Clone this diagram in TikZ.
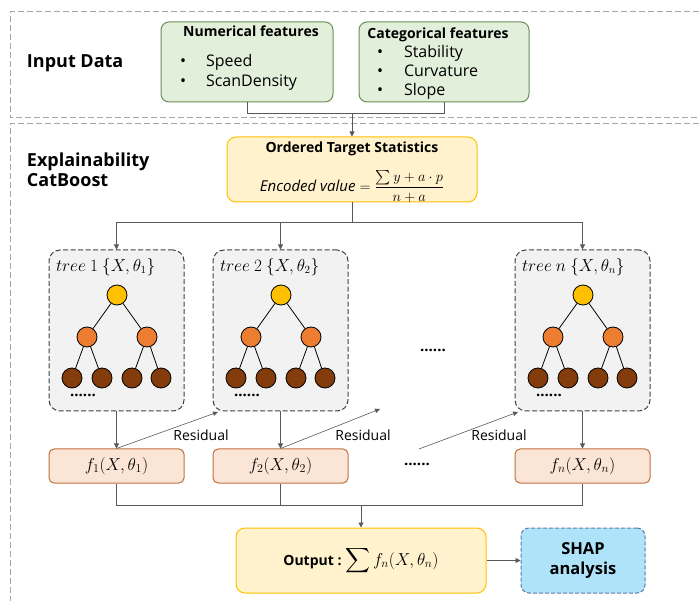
\documentclass[tikz,border=0pt]{standalone}
\usepackage{amsmath}
\usepackage{fontspec}
\setmainfont{Open Sans}
\usetikzlibrary{arrows.meta}
\definecolor{outerdash}{HTML}{A6A6A6}
\definecolor{cline}{HTML}{595959}
\definecolor{greenfill}{HTML}{E2EFDA}
\definecolor{greenline}{HTML}{6B8E5A}
\definecolor{yelfill}{HTML}{FFF2CC}
\definecolor{yelline}{HTML}{FFC000}
\definecolor{treefill}{HTML}{F2F2F2}
\definecolor{treeline}{HTML}{404040}
\definecolor{rootc}{HTML}{FFC000}
\definecolor{midc}{HTML}{ED7D31}
\definecolor{leafc}{HTML}{843C0C}
\definecolor{ffill}{HTML}{FBE5D6}
\definecolor{fline}{HTML}{C0703C}
\definecolor{shapfill}{HTML}{AEE3FA}
\definecolor{shapline}{HTML}{5B7BA6}
\newcommand{\fs}[1]{\fontsize{#1}{#1}\selectfont}
\newcommand{\mytree}[2]{%
  \node[rootn] (#1r) at (#2+68,295) {};
  \node[midn] (#1a) at (#2+38,337) {};
  \node[midn] (#1b) at (#2+98,337) {};
  \node[leafn] (#1c) at (#2+23,378) {};
  \node[leafn] (#1d) at (#2+53,378) {};
  \node[leafn] (#1e) at (#2+83,378) {};
  \node[leafn] (#1f) at (#2+112,378) {};
  \draw[edge] (#1r) -- (#1a);
  \draw[edge] (#1r) -- (#1b);
  \draw[edge] (#1a) -- (#1c);
  \draw[edge] (#1a) -- (#1d);
  \draw[edge] (#1b) -- (#1e);
  \draw[edge] (#1b) -- (#1f);
  \node[dotsn] (#1g) at (#2+34,395) {......};
}
\begin{document}
\begin{tikzpicture}[x=1pt,y=-1pt,
  lbl/.style={inner sep=0,outer sep=0},
  conn/.style={draw=cline,line width=0.8pt},
  arr/.style={conn,-{Triangle[length=5pt,width=5pt]}},
  resid/.style={draw=cline,line width=0.6pt,-{Triangle[length=5pt,width=4.5pt]}},
  outerbox/.style={draw=outerdash,line width=1pt,dash pattern=on 6pt off 3pt},
  greenbox/.style={draw=greenline,fill=greenfill,rounded corners=8pt,line width=1pt,inner sep=0,minimum height=80pt},
  yelbox/.style={draw=yelline,fill=yelfill,rounded corners=9pt,line width=1pt,inner sep=0,minimum width=250pt,minimum height=65pt},
  treebox/.style={draw=treeline,fill=treefill,rounded corners=11pt,line width=1pt,dash pattern=on 5pt off 2.5pt,inner sep=0,minimum width=135pt,minimum height=161pt},
  fbox/.style={draw=fline,fill=ffill,rounded corners=5pt,line width=1pt,inner sep=0,minimum width=135pt,minimum height=34pt,font=\fs{16.5}},
  rootn/.style={circle,draw=black,fill=rootc,line width=0.8pt,minimum size=20pt,inner sep=0},
  midn/.style={circle,draw=black,fill=midc,line width=0.8pt,minimum size=20pt,inner sep=0},
  leafn/.style={circle,draw=black,fill=leafc,line width=0.8pt,minimum size=20pt,inner sep=0},
  edge/.style={draw=black,line width=0.8pt},
  dotsn/.style={lbl,font=\fs{15}\bfseries},
  head/.style={lbl,font=\fs{18}\bfseries,anchor=base west},
  bul/.style={lbl,font=\fs{16},anchor=base west},
  ttl/.style={lbl,font=\fs{14}\bfseries,anchor=base},
  tlabel/.style={lbl,font=\fs{16},anchor=west}
]
\useasboundingbox (0,0) rectangle (699,601);
% outer dashed frames
\draw[outerbox] (699,12) -- (10,12) -- (10,118) -- (699,118);
\draw[outerbox] (699,124) -- (10,124) -- (10,601);
% section titles
\node[head] (inp) at (27,68) {Input Data};
\node[head] (expl) at (27,167) {Explainability};
\node[head] (catb) at (27,187) {CatBoost};
% input boxes
\node[greenbox,minimum width=172pt] (num) at (247,62) {};
\node[ttl] (numt) at (251,37) {Numerical features};
\node[bul] (numb1) at (180,67) {•};
\node[bul] (nums) at (206,67) {Speed};
\node[bul] (numb2) at (180,87) {•};
\node[bul] (numd) at (206,87) {ScanDensity};
\node[greenbox,minimum width=170pt] (cat) at (444,62) {};
\node[ttl] (catt) at (438,39) {Categorical features};
\node[bul] (catb1) at (377,58) {•};
\node[bul] (cats) at (404,58) {Stability};
\node[bul] (catb2) at (377,77) {•};
\node[bul] (catc) at (404,77) {Curvature};
\node[bul] (catb3) at (377,96) {•};
\node[bul] (catl) at (404,96) {Slope};
% ordered target statistics
\node[yelbox] (ots) at (352,169.5) {};
\node[ttl] (otst) at (352,153) {Ordered Target Statistics};
\node[lbl,font=\fs{15}] (otsf) at (352,186.5) {$\mathit{Encoded\ value}=\dfrac{\sum y+a\cdot p}{n+a}$};
% connectors top
\coordinate (j1) at (352,113);
\coordinate (j2) at (352,222);
\draw[conn] (num.south) |- (j1);
\draw[conn] (cat.south) |- (j1);
\draw[arr] (j1) -- (ots.north);
\draw[conn] (ots.south) -- (j2);
% trees
\node[treebox] (tree1) at (116.5,330.5) {};
\node[treebox] (tree2) at (280.5,330.5) {};
\node[treebox] (treen) at (582.5,330.5) {};
\node[tlabel] (tl1) at (56,267) {$tree\ 1\ \{X,\theta_1\}$};
\node[tlabel] (tl2) at (220,267) {$tree\ 2\ \{X,\theta_2\}$};
\node[tlabel] (tln) at (522,267) {$tree\ n\ \{X,\theta_n\}$};
\mytree{ta}{49}
\mytree{tb}{213}
\mytree{tc}{515}
\node[dotsn] (tdots) at (433,350) {......};
\draw[arr] (j2) -| (tree1.north);
\draw[arr] (j2) -| (tree2.north);
\draw[arr] (j2) -| (treen.north);
% f boxes
\node[fbox] (f1) at (116.5,466) {$f_1(X,\theta_1)$};
\node[fbox] (f2) at (280.5,466) {$f_2(X,\theta_2)$};
\node[fbox] (fn) at (582.5,466) {$f_n(X,\theta_n)$};
\node[dotsn] (fdots) at (417,464) {......};
\draw[arr] (tree1.south) -- (f1.north);
\draw[arr] (tree2.south) -- (f2.north);
\draw[arr] (treen.south) -- (fn.north);
% residuals
\coordinate (r1) at (218,412);
\coordinate (r2) at (380,409);
\coordinate (r3s) at (419,449);
\coordinate (r3e) at (518,412);
\draw[resid] (f1.north) -- (r1);
\draw[resid] (f2.north) -- (r2);
\draw[resid] (r3s) -- (r3e);
\node[lbl,font=\fs{14}] (res1) at (201,435) {Residual};
\node[lbl,font=\fs{14}] (res2) at (363,435) {Residual};
\node[lbl,font=\fs{14}] (res3) at (499,435) {Residual};
% output
\node[yelbox] (out) at (361,560.5) {};
\node[lbl] (outt) at (361,561) {\fs{14}\bfseries Output :\ \fontsize{18}{18}\selectfont$\displaystyle\sum f_n(X,\theta_n)$};
\node[draw=shapline,fill=shapfill,rounded corners=8pt,line width=1pt,dash pattern=on 4pt off 2pt,inner sep=0,minimum width=124pt,minimum height=65pt,align=center,font=\fontsize{16.5}{20}\selectfont\bfseries] (shap) at (583,560.5) {SHAP\\analysis};
\coordinate (j3) at (361,505);
\draw[conn] (f1.south) |- (j3);
\draw[conn] (f2.south) |- (j3);
\draw[conn] (fn.south) |- (j3);
\draw[arr] (j3) -- (out.north);
\draw[arr] (out.east) -- (shap.west);
\end{tikzpicture}
\end{document}
